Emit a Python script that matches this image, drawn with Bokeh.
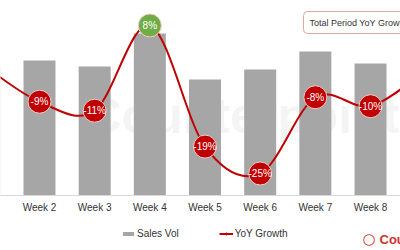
from bokeh.plotting import figure
from bokeh.models import (Range1d, LinearAxis, FixedTicker, Legend, LegendItem, Label)
from bokeh.core.properties import value
from bokeh.embed import file_html
from bokeh.resources import INLINE

# ---- data ----
weeks = ["Week 1", "Week 2", "Week 3", "Week 4", "Week 5", "Week 6", "Week 7", "Week 8", "Week 9"]
week_idx = [1, 2, 3, 4, 5, 6, 7, 8, 9]
sales_vol = [1300, 1350, 1290, 1620, 1160, 1260, 1440, 1320, 1400]
yoy_growth = [-1, -9, -11, 8, -19, -25, -8, -10, -2]

RED = "#C00000"
GREEN = "#70AD47"
GRAY = "#A6A6A6"
FONT = "Liberation Sans"

X_START, X_END = 1.2931, 8.5434

p = figure(width=400, height=250, output_backend="svg", toolbar_location=None,
           x_range=Range1d(X_START, X_END), y_range=Range1d(-550, 1950),
           x_axis_location=None, y_axis_location=None,
           min_border_left=0, min_border_right=0, min_border_top=0, min_border_bottom=0)
p.outline_line_color = None
p.grid.visible = False
p.extra_y_ranges = {"g": Range1d(-42.17, 13.57)}

# watermark
wm = Label(x=85, y=107, x_units="screen", y_units="screen", text="Counterpoint",
           text_font=FONT, text_font_style="bold", text_font_size="50px",
           text_color="#000000", text_alpha=0.045, level="underlay")
p.add_layout(wm)

bars = p.vbar(x=week_idx, top=sales_vol, bottom=0, width=0.58, fill_color=GRAY, line_color=None)

# smooth line (Catmull-Rom as cubic Bezier segments through the data points)
n = len(week_idx)
pts = list(zip(week_idx, yoy_growth))
bx0, by0, bx1, by1, bcx0, bcy0, bcx1, bcy1 = [], [], [], [], [], [], [], []
for i in range(n - 1):
    xm, ym = pts[max(i - 1, 0)]
    xa, ya = pts[i]
    xb, yb = pts[i + 1]
    xp, yp = pts[min(i + 2, n - 1)]
    bx0.append(xa); by0.append(ya); bx1.append(xb); by1.append(yb)
    bcx0.append(xa + (xb - xm) / 6); bcy0.append(ya + (yb - ym) / 6)
    bcx1.append(xb - (xp - xa) / 6); bcy1.append(yb - (yp - ya) / 6)
line_r = p.bezier(x0=bx0, y0=by0, x1=bx1, y1=by1, cx0=bcx0, cy0=bcy0, cx1=bcx1, cy1=bcy1,
                  line_color=RED, line_width=2, y_range_name="g")
dots = p.scatter(x=week_idx, y=yoy_growth, size=4, fill_color=RED, line_color=RED, y_range_name="g")

# value bubbles for the weeks inside the visible window
vis = [i for i, x in enumerate(week_idx) if X_START < x < X_END]
vx = [week_idx[i] for i in vis]
vy = [yoy_growth[i] for i in vis]
colors = [GREEN if v > 0 else RED for v in vy]
p.scatter(x=vx, y=vy, size=23, fill_color=colors, line_color="#F4CCCC",
          line_width=1, y_range_name="g")
p.text(x=vx, y=vy, text=[f"{v}%" for v in vy], y_range_name="g",
       text_align="center", text_baseline="middle", text_color="white",
       text_font=value(FONT), text_font_size="10px")

xaxis = LinearAxis(fixed_location=0, ticker=FixedTicker(ticks=vx),
                   major_label_overrides={i: w for i, w in zip(week_idx, weeks)},
                   major_tick_line_color=None, minor_tick_line_color=None,
                   major_tick_out=0, major_tick_in=0,
                   axis_line_color="#D9D9D9", axis_line_width=1,
                   major_label_text_font=FONT, major_label_text_font_size="10px",
                   major_label_text_color="#333333", major_label_standoff=6)
p.add_layout(xaxis, "below")

legend = Legend(items=[LegendItem(label="Sales Vol", renderers=[bars]),
                       LegendItem(label="YoY Growth", renderers=[line_r, dots])],
                orientation="horizontal", location=(121, 11),
                glyph_width=14, glyph_height=5, label_standoff=2, spacing=40,
                padding=0, margin=0, label_text_font=FONT, label_text_font_size="10px",
                label_text_color="#333333", border_line_alpha=0, background_fill_alpha=0)
p.add_layout(legend, "center")

# top-right summary box
box = Label(x=303, y=239, x_units="screen", y_units="screen",
            text="Total Period YoY Growth", text_baseline="top",
            text_font=FONT, text_font_size="9px", text_color="#333333",
            border_line_color="#E3A6A6", border_line_width=1, border_radius=4,
            background_fill_color="white", padding=6)
p.add_layout(box)

# brand mark bottom-right
icon = Label(x=362, y=3, x_units="screen", y_units="screen", text="○",
             text_font="DejaVu Sans", text_font_style="bold", text_font_size="15px",
             text_color="#D0312D")
p.add_layout(icon)
brand = Label(x=379, y=4, x_units="screen", y_units="screen", text="Counterpoint",
              text_font=FONT, text_font_style="bold", text_font_size="13px",
              text_color="#D0312D")
p.add_layout(brand)

open("out.html", "w").write(file_html(p, INLINE))
